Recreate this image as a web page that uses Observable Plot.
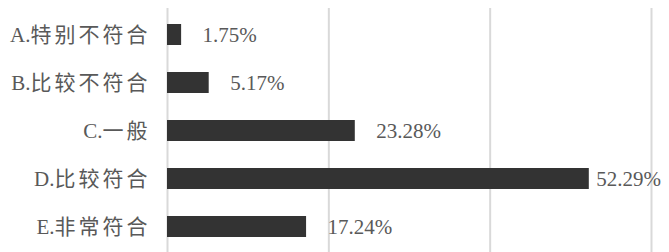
<!DOCTYPE html>
<html>
<head>
<meta charset="utf-8">
<script src="https://cdn.jsdelivr.net/npm/d3@7"></script>
<script src="https://cdn.jsdelivr.net/npm/@observablehq/plot@0.6"></script>
<style>
  html, body { margin: 0; padding: 0; background: #fff; }
  #chart svg { display: block; }
</style>
</head>
<body>
<div id="chart"></div>
<script>
const categories = ["A.特别不符合", "B.比较不符合", "C.一般", "D.比较符合", "E.非常符合"];
const values = [1.75, 5.17, 23.28, 52.29, 17.24];
const valueLabels = ["1.75%", "5.17%", "23.28%", "52.29%", "17.24%"];
const xTicks = [0, 20, 40, 60];

const data = categories.map((c, i) => ({category: c, value: values[i], label: valueLabels[i]}));
const font = "'Liberation Serif', 'Noto Sans CJK SC', serif";

const chart = Plot.plot({
  width: 669,
  height: 252,
  marginLeft: 167,
  marginRight: 18,
  marginTop: 9,
  marginBottom: 1,
  style: {fontFamily: font, background: "#fff"},
  x: {domain: [0, 60], axis: null},
  y: {domain: categories, paddingInner: 0.57, paddingOuter: 0.285, label: null, axis: null},
  marks: [
    Plot.ruleX(xTicks, {stroke: "#d9d9d9", strokeWidth: 2, insetTop: -1, insetBottom: -1}),
    Plot.barX(data, {x: "value", y: "category", fill: "#333333"}),
    Plot.text(data.filter(d => d.value < 50), {
      x: "value", y: "category", text: "label",
      textAnchor: "start", dx: 21, fill: "#595959", fontSize: 21
    }),
    Plot.text(data.filter(d => d.value >= 50), {
      x: "value", y: "category", text: "label",
      textAnchor: "start", dx: 7, fill: "#595959", fontSize: 21
    }),
    Plot.axisY({tickSize: 0, tickPadding: 17, fontSize: 21, color: "#595959", label: null})
  ]
});
// split each tick label into its letter prefix and the spaced Chinese text
d3.select(chart).selectAll('g[aria-label="y-axis tick label"] text').each(function() {
  const t = d3.select(this);
  const s = t.text();
  const prefix = s.slice(0, 2), rest = s.slice(2);
  t.text(null);
  t.append("tspan").text(prefix);
  t.append("tspan").style("letter-spacing", "3px").text(rest);
});
document.getElementById("chart").appendChild(chart);
</script>
</body>
</html>
